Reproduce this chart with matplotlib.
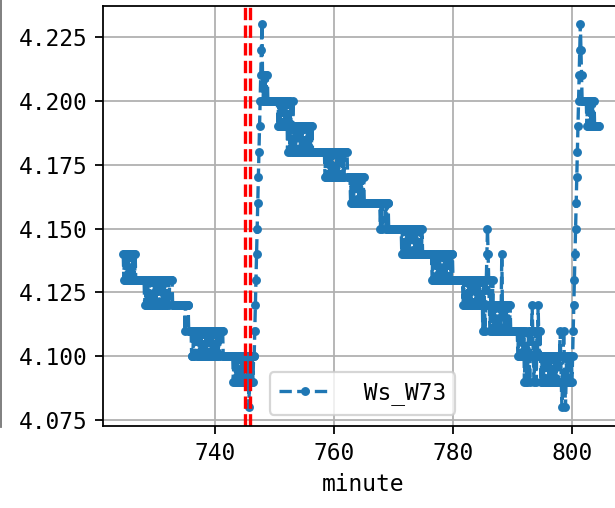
import matplotlib
matplotlib.use('Agg')
import matplotlib.pyplot as plt
from matplotlib.lines import Line2D
from matplotlib.ticker import FormatStrFormatter
import numpy as np

plt.rcParams['font.family'] = 'DejaVu Sans Mono'
plt.rcParams['font.size'] = 10.3

# sampling grid of the record (minutes)
start_minute = 724.6
step_minute = 0.1

# Ws_W73 readings in hundredths above 4.00, one row = 2 minutes (20 samples)
ws_w73_cents = [
    14, 13, 14, 13, 14, 13, 14, 13, 14, 13, 14, 13, 14, 13, 14, 13, 14, 13, 14, 13,
    14, 13, 13, 13, 13, 13, 13, 13, 13, 13, 13, 13, 13, 13, 13, 13, 12, 13, 12, 13,
    12, 13, 12, 12, 13, 12, 13, 13, 12, 13, 12, 12, 13, 12, 13, 12, 13, 12, 12, 13,
    12, 13, 12, 13, 13, 12, 12, 13, 12, 13, 12, 13, 12, 13, 12, 13, 13, 12, 13, 13,
    13, 13, 13, 12, 12, 12, 12, 12, 12, 12, 12, 12, 12, 12, 12, 12, 12, 12, 12, 12,
    12, 12, 12, 12, 11, 12, 12, 12, 12, 12, 11, 11, 11, 11, 11, 10, 10, 10, 11, 10,
    11, 11, 11, 11, 10, 11, 10, 11, 10, 11, 10, 11, 10, 11, 10, 11, 10, 11, 10, 11,
    10, 11, 10, 11, 10, 11, 10, 11, 10, 11, 10, 11, 10, 11, 10, 11, 10, 11, 10, 11,
    10, 11, 10, 11, 11, 11, 11, 11, 10, 10, 10, 10, 10, 10, 10, 10, 10, 10, 10, 10,
    10, 10, 10, 10, 10, 9, 10, 9, 10, 9, 10, 9, 10, 9, 10, 9, 10, 9, 10, 9,
    10, 9, 10, 9, 10, 9, 10, 9, 10, 9, 10, 8, 9, 10, 9, 10, 9, 10, 9, 10,
    10, 11, 12, 13, 14, 15, 16, 17, 18, 19, 20, 21, 22, 23, 21, 20, 21, 20, 21, 20,
    21, 20, 21, 20, 20, 20, 20, 20, 20, 20, 20, 20, 20, 20, 20, 20, 20, 20, 20, 20,
    19, 20, 19, 20, 19, 20, 19, 20, 19, 20, 19, 20, 19, 20, 19, 20, 18, 19, 20, 19,
    18, 20, 19, 18, 19, 20, 18, 19, 18, 19, 18, 19, 18, 18, 19, 18, 19, 18, 19, 18,
    19, 18, 19, 18, 18, 19, 18, 19, 18, 19, 19, 18, 19, 18, 18, 19, 18, 19, 18, 18,
    18, 18, 18, 18, 18, 18, 18, 18, 18, 18, 18, 18, 18, 18, 18, 18, 18, 18, 18, 17,
    18, 17, 18, 17, 17, 18, 17, 18, 18, 17, 18, 17, 18, 17, 17, 18, 17, 18, 17, 18,
    17, 18, 17, 18, 17, 18, 18, 17, 18, 17, 18, 17, 18, 18, 18, 18, 18, 17, 17, 17,
    17, 17, 16, 17, 16, 17, 16, 16, 17, 16, 17, 17, 16, 17, 16, 17, 16, 17, 16, 16,
    17, 16, 17, 16, 17, 16, 16, 16, 16, 16, 16, 16, 16, 16, 16, 16, 16, 16, 16, 16,
    16, 16, 16, 16, 16, 16, 16, 16, 16, 16, 16, 16, 15, 16, 16, 15, 16, 16, 16, 16,
    16, 15, 16, 15, 16, 16, 15, 15, 15, 15, 15, 15, 15, 15, 15, 15, 15, 15, 15, 15,
    15, 15, 15, 15, 15, 15, 15, 15, 14, 15, 14, 15, 15, 14, 15, 14, 15, 14, 14, 15,
    14, 15, 14, 15, 14, 14, 15, 14, 15, 15, 14, 15, 14, 15, 14, 14, 15, 14, 15, 14,
    15, 14, 15, 14, 14, 14, 14, 14, 14, 14, 14, 14, 14, 14, 14, 14, 14, 14, 14, 13,
    14, 13, 14, 13, 13, 14, 13, 14, 14, 13, 14, 13, 14, 13, 13, 14, 13, 14, 13, 14,
    13, 14, 13, 14, 13, 14, 14, 13, 14, 13, 14, 13, 14, 14, 13, 13, 13, 13, 13, 13,
    13, 13, 13, 13, 13, 13, 13, 13, 13, 13, 13, 12, 13, 12, 13, 12, 12, 13, 12, 13,
    12, 13, 12, 13, 13, 12, 13, 12, 12, 13, 12, 13, 12, 13, 13, 12, 13, 12, 12, 13,
    12, 13, 12, 13, 11, 12, 13, 12, 11, 12, 13, 14, 15, 14, 13, 12, 11, 12, 13, 11,
    12, 13, 11, 12, 11, 12, 12, 11, 12, 11, 12, 11, 11, 12, 11, 12, 14, 12, 11, 12,
    11, 12, 11, 12, 11, 12, 12, 11, 12, 11, 12, 11, 11, 11, 11, 11, 11, 11, 11, 11,
    11, 11, 11, 10, 11, 10, 11, 10, 10, 11, 10, 11, 10, 11, 9, 10, 11, 9, 10, 9,
    10, 11, 10, 9, 11, 10, 11, 12, 11, 10, 9, 10, 11, 10, 9, 11, 10, 12, 11, 10,
    11, 10, 9, 10, 9, 10, 9, 10, 9, 10, 10, 9, 10, 9, 10, 9, 10, 9, 10, 9,
    10, 9, 10, 9, 10, 9, 10, 9, 10, 9, 10, 9, 9, 10, 11, 10, 9, 8, 9, 10,
    11, 10, 9, 8, 9, 10, 9, 10, 9, 10, 9, 10, 9, 10, 9, 10, 11, 12, 13, 14,
    15, 16, 17, 18, 19, 20, 21, 22, 23, 22, 21, 20, 20, 20, 20, 20, 20, 20, 20, 19,
    20, 19, 20, 20, 19, 20, 19, 20, 19, 20, 19, 20, 19, 19, 19, 19, 19, 19, 19, 19,
]

event_minutes = [745.0, 745.9]
x_ticks = [740, 760, 780, 800]
y_ticks = [4.075, 4.100, 4.125, 4.150, 4.175, 4.200, 4.225]

ws_w73 = 4.0 + np.array(ws_w73_cents) / 100.0
minute = start_minute + step_minute * np.arange(len(ws_w73))

fig = plt.figure(figsize=(615 / 160, 508 / 160), dpi=160)
ax = fig.add_axes([0.1675, 0.1614, 0.8439, 0.8268])

ax.plot(minute, ws_w73, '.--', color='#1f77b4', label=' Ws_W73')
for m in event_minutes:
    ax.axvline(m, color='red', linestyle='--')

ax.set_xlim(721.2, 808.4)
ax.set_ylim(4.0727, 4.2371)
ax.set_xticks(x_ticks)
ax.set_yticks(y_ticks)
ax.yaxis.set_major_formatter(FormatStrFormatter('%.3f'))
ax.set_xlabel('minute')
ax.grid(True)
ax.legend(loc='lower center', handlelength=2.3)

# edge of the neighbouring panel, cut off at the left
fig.add_artist(Line2D([0.0018, 0.0018], [0.159, 1.0], color='0.45', lw=0.8))

fig.savefig('out.png', dpi=160)
